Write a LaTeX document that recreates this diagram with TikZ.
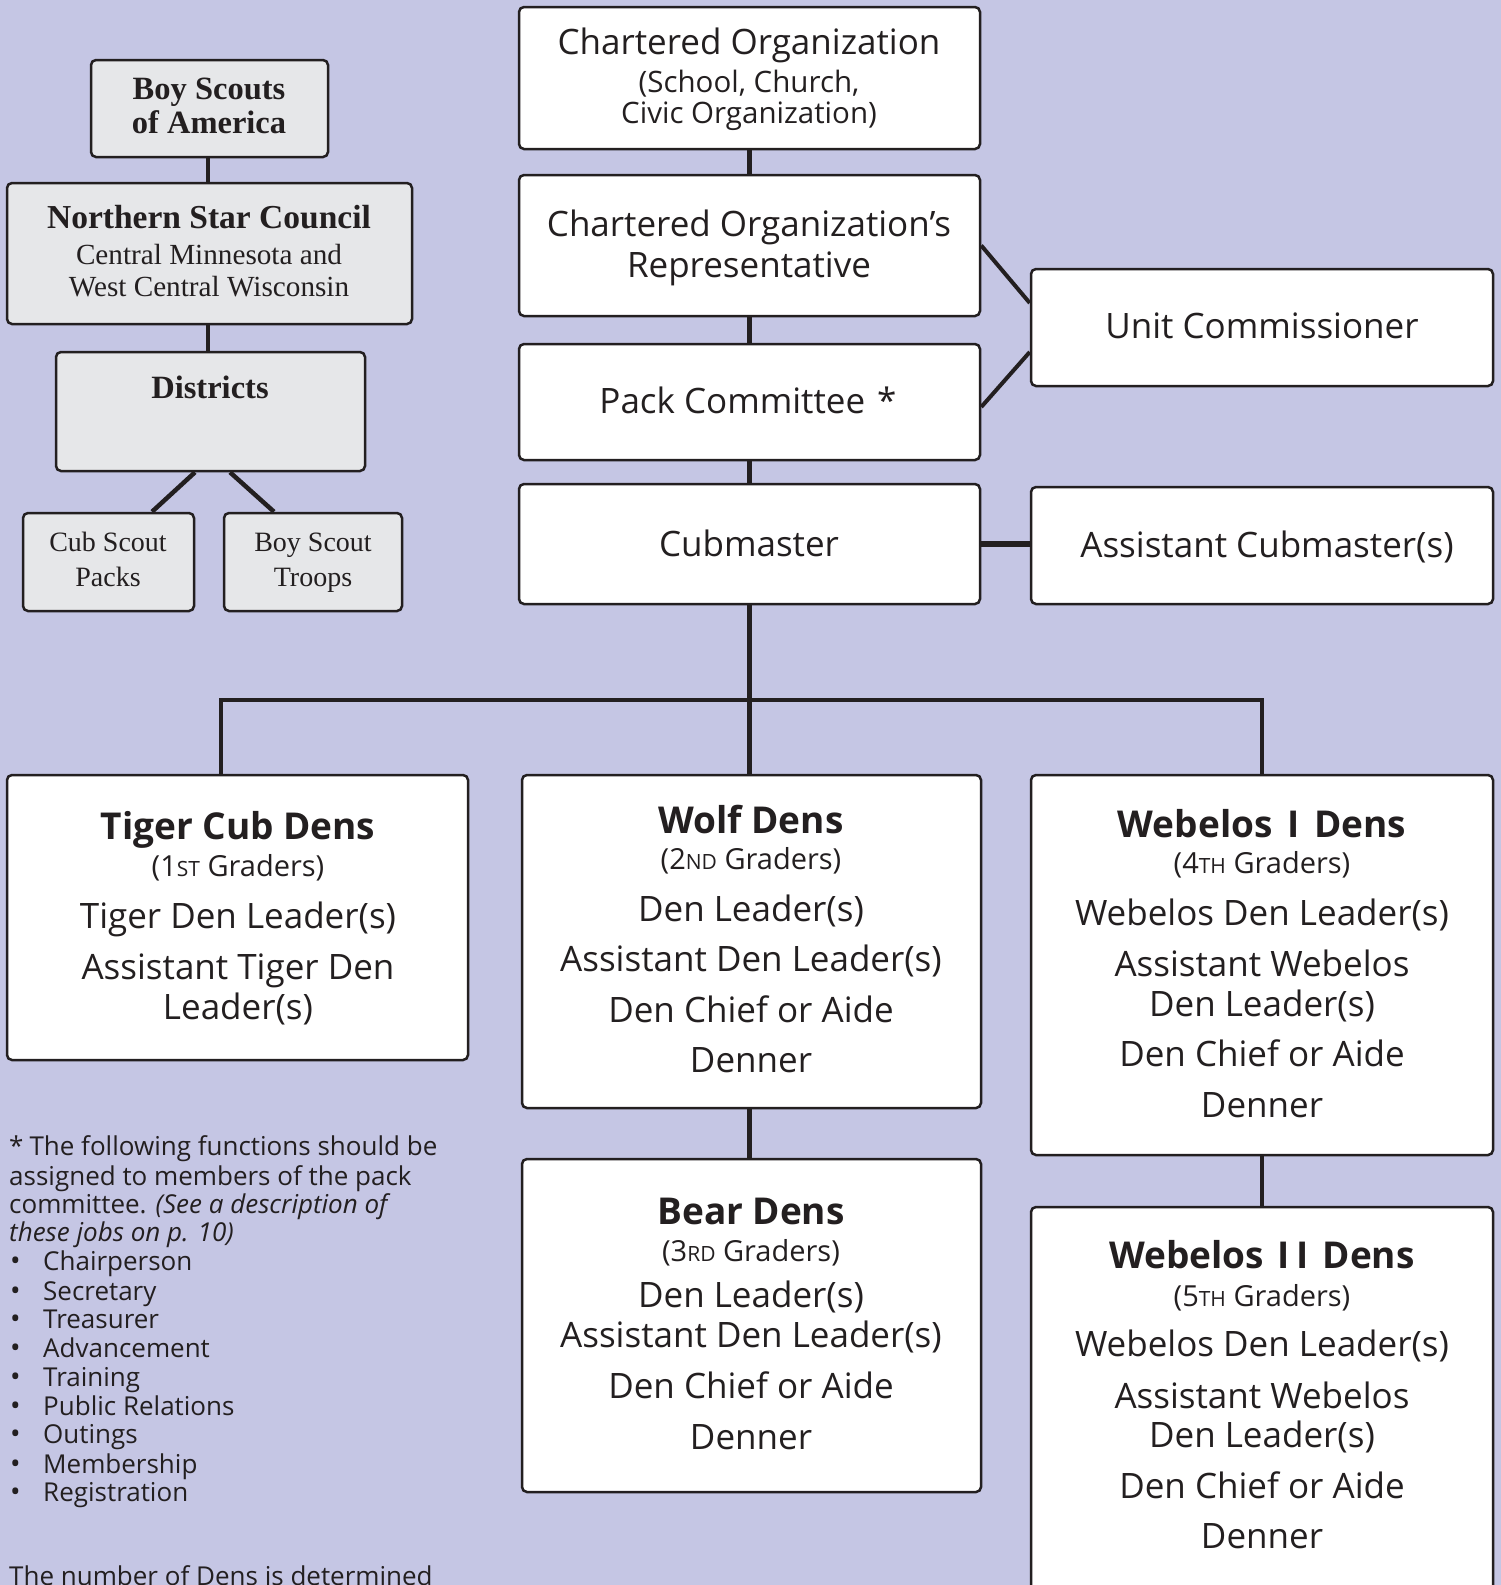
\documentclass[tikz,border=0pt]{standalone}
\usepackage{fontspec}
\setmainfont{Open Sans}
\newfontfamily\serifdf{Liberation Serif}
\usetikzlibrary{backgrounds}
\definecolor{bgl}{HTML}{C5C6E4}
\definecolor{boxgray}{HTML}{E6E7E9}
\definecolor{ink}{HTML}{231F20}
\tikzset{
  wbox/.style={draw=ink, line width=2.5pt, fill=white, rounded corners=5pt, inner sep=0pt},
  gbox/.style={wbox, fill=boxgray},
  conn/.style={draw=ink, line width=4.5pt},
  tbig/.style={font=\fontsize{35}{35}\selectfont, text height=22.4pt, text depth=0pt, inner sep=0pt, text=ink, yshift=-2pt},
  thead/.style={font=\fontsize{37}{37}\selectfont\bfseries, text height=23.6pt, text depth=0pt, inner sep=0pt, text=ink, yshift=-2pt},
  tgrad/.style={font=\fontsize{29}{29}\selectfont, text height=18.5pt, text depth=0pt, inner sep=0pt, text=ink, yshift=-2pt},
  tsub/.style={font=\fontsize{29.5}{29.5}\selectfont, text height=18.8pt, text depth=0pt, inner sep=0pt, text=ink, yshift=-2pt},
  sbold/.style={font=\fontsize{32.5}{32.5}\selectfont\serifdf\bfseries, text height=18.2pt, text depth=0pt, inner sep=0pt, text=ink, yshift=-1pt},
  sbig/.style={sbold, font=\fontsize{33.5}{33.5}\selectfont\serifdf\bfseries},
  sreg/.style={font=\fontsize{28}{28}\selectfont\serifdf, text height=15.7pt, text depth=0pt, inner sep=0pt, text=ink, yshift=-1pt},
  sregb/.style={sreg, font=\fontsize{29.2}{29.2}\selectfont\serifdf},
  fn/.style={font=\fontsize{26}{26}\selectfont, text height=16.6pt, text depth=0pt, inner sep=0pt, text=ink, anchor=west, yshift=-1pt},
  bul/.style={fn, font=\fontsize{28}{28}\selectfont, text height=12pt, yshift=-2pt},
}
\newcommand{\smc}[1]{{\fontsize{21}{21}\selectfont #1}}
\begin{document}
\begin{tikzpicture}[x=1pt,y=-1pt]
\useasboundingbox (0,0) rectangle (1501,1585);
\clip (0,0) rectangle (1501,1585);
\begin{scope}[on background layer]
\fill[bgl] (-5,-5) rectangle (1506,1590);
\end{scope}

% right column boxes
\node[wbox, minimum width=461pt, minimum height=142pt] (co) at (749.5,78) {};
\node[wbox, minimum width=461pt, minimum height=141pt] (rep) at (749.5,245.5) {};
\node[wbox, minimum width=461pt, minimum height=116pt] (pc) at (749.5,402) {};
\node[wbox, minimum width=461pt, minimum height=120pt] (cm) at (749.5,544) {};
\node[wbox, minimum width=462pt, minimum height=117pt] (uc) at (1262,327.5) {};
\node[wbox, minimum width=462pt, minimum height=117pt] (ac) at (1262,545.5) {};

% left boxes
\node[gbox, minimum width=237pt, minimum height=97pt] (bsa) at (209.5,108.5) {};
\node[gbox, minimum width=405pt, minimum height=141pt] (nsc) at (209.5,253.5) {};
\node[gbox, minimum width=309pt, minimum height=119pt] (dist) at (210.5,411.5) {};
\node[gbox, minimum width=171pt, minimum height=98pt] (csp) at (108.5,562) {};
\node[gbox, minimum width=178pt, minimum height=98pt] (bst) at (313,562) {};

% den boxes
\node[wbox, minimum width=461pt, minimum height=285pt] (tiger) at (237.5,917.5) {};
\node[wbox, minimum width=459pt, minimum height=333pt] (wolf) at (751.5,941.5) {};
\node[wbox, minimum width=462pt, minimum height=380pt] (webA) at (1262,965) {};
\node[wbox, minimum width=459pt, minimum height=333pt] (bear) at (751.5,1325.5) {};
\node[wbox, minimum width=462pt, minimum height=413pt] (webB) at (1262,1413.5) {};

% connectors
\coordinate (bus) at (749.5,700);
\coordinate (busL) at (221,700);
\coordinate (busR) at (1262,700);
\begin{scope}[on background layer]
\draw[conn] (co.south) -- (rep.north);
\draw[conn] (rep.south) -- (pc.north);
\draw[conn] (pc.south) -- (cm.north);
\draw[conn, line width=4pt] (rep.east) -- ([yshift=24.5pt]uc.west);
\draw[conn, line width=4pt] ([yshift=-5pt]pc.east) -- ([yshift=-24.5pt]uc.west);
\draw[conn, line width=6.5pt] (cm.east) -- (cm.east -| ac.west);
\draw[conn] (cm.south) -- (bus);
\draw[conn] (busL |- tiger.north) -- (busL) -- (busR) -- (busR |- webA.north);
\draw[conn] (bus) -- (bus |- wolf.north);
\draw[conn] (bus |- wolf.south) -- (bus |- bear.north);
\draw[conn] (webA.south) -- (webB.north);
\draw[conn] ([xshift=-1.5pt]bsa.south) -- ([xshift=-1.5pt]bsa.south |- nsc.north);
\draw[conn] ([xshift=-1.5pt]nsc.south) -- ([xshift=-1.5pt]nsc.south |- dist.north);
\draw[conn] ([xshift=-15.5pt]dist.south) -- ([xshift=43.5pt]csp.north);
\draw[conn] ([xshift=19.5pt]dist.south) -- ([xshift=-39pt]bst.north);
\end{scope}

% right column texts
\node[tbig] (coA) at (749,41) {Chartered Organization};
\node[tsub] (coB) at (749,81) {(School, Church,};
\node[tsub] (coC) at (749,112) {Civic Organization)};
\node[tbig] (repA) at (749,223) {Chartered Organization’s};
\node[tbig] (repB) at (749,264) {Representative};
\node[tbig] (pcA) at (748,400) {Pack Committee\hspace{12pt}*};
\node[tbig] (cmA) at (749,543) {Cubmaster};
\node[tbig] (ucA) at (1262,325) {Unit Commissioner};
\node[tbig] (acA) at (1267,544) {Assistant Cubmaster(s)};

% left texts
\node[sbold] (bsaA) at (209,89) {Boy Scouts};
\node[sbold] (bsaB) at (209,123) {of America};
\node[sbig] (nscA) at (209,218) {Northern Star Council};
\node[sregb] (nscB) at (209,256) {Central Minnesota and};
\node[sregb] (nscC) at (209,288) {West Central Wisconsin};
\node[sbold] (distA) at (210,388) {Districts};
\node[sreg] (cspA) at (108,543) {Cub Scout};
\node[sreg] (cspB) at (108,578) {Packs};
\node[sreg] (bstA) at (313,543) {Boy Scout};
\node[sreg] (bstB) at (313,578) {Troops};

% Tiger
\node[thead] (tgA) at (238,826) {Tiger Cub Dens};
\node[tgrad] (tgB) at (238,865) {(1\smc{ST} Graders)};
\node[tbig] (tgC) at (238,915) {Tiger Den Leader(s)};
\node[tbig] (tgD) at (238,966) {Assistant Tiger Den};
\node[tbig] (tgE) at (238,1006) {Leader(s)};
% Wolf
\node[thead] (wfA) at (751,820) {Wolf Dens};
\node[tgrad] (wfB) at (751,858) {(2\smc{ND} Graders)};
\node[tbig] (wfC) at (751,908) {Den Leader(s)};
\node[tbig] (wfD) at (751,958) {Assistant Den Leader(s)};
\node[tbig] (wfE) at (751,1009) {Den Chief or Aide};
\node[tbig] (wfF) at (751,1059) {Denner};
% Webelos I
\node[thead] (waA) at (1262,824) {Webelos\hspace{5pt} I\hspace{5pt} Dens};
\node[tgrad] (waB) at (1262,862) {(4\smc{TH} Graders)};
\node[tbig] (waC) at (1262,912) {Webelos Den Leader(s)};
\node[tbig] (waD) at (1262,963) {Assistant Webelos};
\node[tbig] (waE) at (1262,1003) {Den Leader(s)};
\node[tbig] (waF) at (1262,1053) {Den Chief or Aide};
\node[tbig] (waG) at (1262,1104) {Denner};
% Bear
\node[thead] (brA) at (751,1211) {Bear Dens};
\node[tgrad] (brB) at (751,1250) {(3\smc{RD} Graders)};
\node[tbig] (brC) at (751,1294) {Den Leader(s)};
\node[tbig] (brD) at (751,1334) {Assistant Den Leader(s)};
\node[tbig] (brE) at (751,1385) {Den Chief or Aide};
\node[tbig] (brF) at (751,1436) {Denner};
% Webelos II
\node[thead] (wbA) at (1262,1255) {Webelos\hspace{4pt} I\hspace{7pt}I\hspace{4pt} Dens};
\node[tgrad] (wbB) at (1262,1295) {(5\smc{TH} Graders)};
\node[tbig] (wbC) at (1262,1343) {Webelos Den Leader(s)};
\node[tbig] (wbD) at (1262,1395) {Assistant Webelos};
\node[tbig] (wbE) at (1262,1434) {Den Leader(s)};
\node[tbig] (wbF) at (1262,1485) {Den Chief or Aide};
\node[tbig] (wbG) at (1262,1535) {Denner};

% footnote
\node[fn] (fn1) at (9,1146) {*\hspace{6pt}The following functions should be};
\node[fn] (fn2) at (9,1176) {assigned to members of the pack};
\node[fn] (fn3) at (9,1204) {committee. \textit{(See a description of}};
\node[fn] (fn4) at (9,1232) {\textit{these jobs on p. 10)}};
\foreach \yy/\lbl [count=\i] in {1261/Chairperson,1291/Secretary,1319/Treasurer,1348/Advancement,1377/Training,1406/Public Relations,1434/Outings,1464/Membership,1492/Registration}{
  \node[bul] (bu\i) at (10,\yy) {•};
  \node[fn] (bl\i) at (43,\yy) {\lbl};
}
\node[fn] (fn5) at (9,1576) {The number of Dens is determined};
\end{tikzpicture}
\end{document}
